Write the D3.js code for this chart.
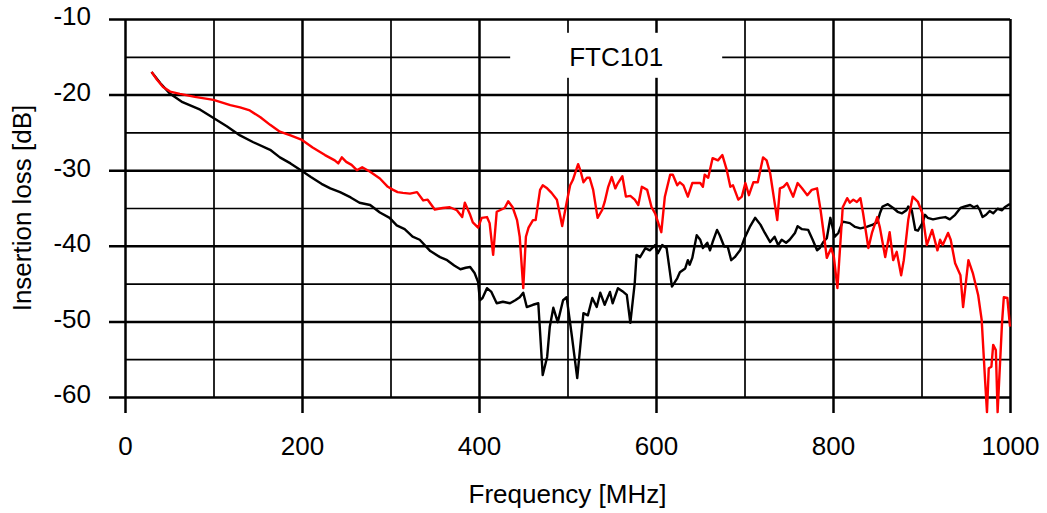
<!DOCTYPE html>
<html>
<head>
<meta charset="utf-8">
<script src="https://cdn.jsdelivr.net/npm/d3@7"></script>
<style>
body { margin: 0; background: #fff; }
text { font-family: "Liberation Sans", Arial, sans-serif; fill: #000; }
</style>
</head>
<body>
<svg id="chart"></svg>
<script>
// x ticks, y ticks
var xMajor = [0, 200, 400, 600, 800, 1000];
var xMinor = [100, 300, 500, 700, 900];
var yMajor = [-10, -20, -30, -40, -50, -60];
var yMinor = [-15, -25, -35, -45, -55];
var title = "FTC101";

// [MHz, dB]
var blackSeries = [[30,-17.0],[40,-18.5],[51,-19.9],[65,-21.0],[85,-22.0],[100,-23.1],[115,-24.2],[130,-25.4],[145,-26.3],[164,-27.3],[175,-28.3],[187,-29.1],[200,-30.1],[210,-30.9],[222,-31.8],[232,-32.4],[243,-32.9],[255,-33.6],[265,-34.3],[277,-34.6],[288,-35.6],[299,-36.3],[307,-37.3],[316,-37.8],[325,-38.8],[333,-39.2],[345,-40.7],[356,-41.5],[364,-41.9],[372,-42.6],[379,-43.1],[385,-42.9],[390,-42.8],[395,-43.6],[399,-44.8],[401,-47.2],[404,-46.9],[409,-45.6],[414,-46.1],[420,-47.6],[427,-47.4],[435,-47.6],[441,-47.2],[446,-46.8],[450,-46.2],[454,-48.1],[461,-47.8],[467,-47.6],[472,-57.1],[477,-54.7],[480,-50.7],[484,-48.2],[489,-50.1],[495,-47.2],[499,-46.8],[505,-52.0],[511,-57.5],[518,-48.9],[523,-49.2],[528,-46.9],[533,-48.1],[537,-46.2],[542,-47.8],[548,-46.1],[551,-47.6],[557,-45.6],[562,-46.0],[567,-46.5],[571,-50.2],[576,-44.9],[578,-41.2],[582,-41.5],[588,-40.3],[593,-40.6],[599,-39.9],[602,-41.0],[607,-39.9],[612,-40.3],[618,-45.4],[624,-44.3],[627,-43.5],[633,-43.0],[636,-41.9],[638,-42.5],[641,-41.6],[646,-38.6],[650,-39.2],[653,-40.3],[658,-39.6],[661,-40.6],[664,-39.5],[669,-37.9],[672,-38.6],[677,-40.1],[681,-40.1],[685,-41.9],[689,-41.5],[695,-40.6],[700,-39.0],[706,-37.5],[712,-36.3],[718,-37.2],[723,-38.3],[729,-39.5],[734,-38.8],[738,-39.9],[742,-39.2],[747,-39.6],[751,-39.2],[757,-38.3],[760,-37.4],[765,-37.8],[772,-37.9],[777,-39.2],[782,-40.6],[785,-40.3],[789,-39.5],[793,-39.0],[797,-36.3],[802,-38.8],[806,-38.3],[811,-36.8],[819,-37.0],[825,-37.5],[831,-37.7],[838,-37.5],[845,-37.2],[850,-36.9],[853,-35.7],[856,-34.8],[862,-34.5],[868,-35.0],[873,-35.5],[878,-35.7],[883,-35.3],[885,-34.8],[889,-35.3],[893,-37.9],[896,-38.0],[901,-37.0],[904,-35.9],[907,-36.3],[913,-36.5],[921,-36.3],[927,-36.2],[932,-36.5],[938,-35.9],[944,-35.0],[949,-34.8],[955,-34.6],[959,-34.9],[963,-34.7],[966,-35.3],[969,-36.2],[973,-35.9],[977,-35.4],[981,-35.7],[986,-35.1],[991,-35.3],[994,-34.9],[998,-34.6],[1000,-34.5]];

var redSeries = [[30,-17.0],[36,-18.0],[43,-19.0],[51,-19.6],[62,-19.9],[79,-20.3],[100,-20.7],[119,-21.4],[130,-21.7],[141,-22.1],[153,-23.0],[164,-24.0],[175,-24.9],[187,-25.4],[200,-26.0],[212,-27.0],[226,-28.0],[237,-28.7],[241,-29.1],[245,-28.3],[250,-28.9],[256,-29.3],[262,-30.0],[268,-29.6],[277,-30.2],[288,-31.1],[297,-32.2],[303,-32.6],[308,-32.9],[314,-33.0],[322,-33.1],[330,-32.9],[337,-34.0],[342,-33.9],[350,-35.2],[359,-35.0],[367,-34.9],[375,-35.3],[381,-36.2],[384,-34.3],[390,-35.9],[393,-36.9],[399,-37.6],[403,-36.3],[409,-36.2],[412,-37.0],[416,-41.2],[420,-35.5],[429,-35.0],[433,-34.1],[438,-34.9],[443,-36.6],[446,-38.8],[450,-45.6],[453,-38.8],[456,-37.6],[461,-36.6],[464,-36.6],[469,-32.6],[472,-32.0],[477,-32.4],[482,-33.0],[488,-33.9],[492,-36.2],[494,-37.4],[499,-34.3],[503,-32.0],[506,-31.3],[512,-29.2],[515,-30.2],[518,-31.6],[522,-31.0],[525,-31.0],[529,-32.6],[534,-36.3],[539,-35.3],[542,-34.2],[546,-32.2],[550,-30.9],[554,-32.4],[557,-31.7],[562,-30.8],[566,-33.5],[571,-33.4],[576,-33.9],[580,-34.6],[584,-32.2],[590,-32.6],[595,-34.9],[599,-35.7],[606,-38.2],[610,-33.5],[616,-30.6],[619,-30.6],[624,-32.0],[627,-31.6],[631,-32.0],[636,-33.5],[641,-31.7],[646,-31.7],[650,-31.7],[653,-32.2],[655,-30.6],[659,-31.0],[664,-28.4],[670,-28.7],[675,-28.0],[680,-30.0],[684,-32.2],[687,-32.0],[693,-33.9],[697,-33.5],[701,-31.7],[705,-33.3],[710,-31.6],[715,-31.6],[721,-28.3],[725,-28.7],[729,-30.4],[737,-36.6],[740,-32.4],[744,-32.2],[748,-31.7],[755,-33.5],[760,-31.7],[765,-32.4],[771,-33.3],[776,-32.6],[782,-32.4],[786,-35.3],[790,-38.8],[793,-41.6],[798,-40.3],[801,-41.5],[805,-45.6],[808,-40.2],[811,-34.9],[816,-33.7],[819,-34.3],[823,-33.9],[827,-34.2],[831,-33.7],[834,-35.7],[840,-40.3],[844,-38.3],[850,-36.2],[853,-37.6],[859,-41.5],[864,-38.2],[868,-41.9],[872,-40.8],[877,-43.9],[880,-41.9],[885,-36.6],[890,-33.5],[896,-34.2],[901,-35.7],[906,-39.9],[912,-37.9],[918,-40.6],[921,-39.2],[924,-39.9],[930,-38.3],[933,-39.2],[938,-42.3],[944,-43.9],[947,-48.1],[953,-41.9],[958,-43.6],[964,-46.5],[968,-49.8],[972,-58.1],[974,-62.0],[976,-56.2],[979,-56.0],[981,-53.1],[984,-53.8],[986,-62.0],[991,-50.2],[993,-46.8],[997,-46.9],[1000,-50.7]];

var W = 1047, H = 513;
var margin = {left: 125, right: 37, top: 19, bottom: 116};
var width = W - margin.left - margin.right;
var height = H - margin.top - margin.bottom;
var fontSize = 26;
var plain = d => String(d);

var svg = d3.select("#chart").attr("width", W).attr("height", H);
var g = svg.append("g").attr("transform", "translate(" + margin.left + "," + margin.top + ")");

var x = d3.scaleLinear().domain([0, 1000]).range([0, width]);
var y = d3.scaleLinear().domain([-60, -10]).range([height, 0]);

function grid(sel, w) {
	sel.select(".domain").remove();
	sel.selectAll("line").attr("stroke", "#000").attr("stroke-width", w);
}

// vertical grid lines
g.append("g")
	.call(d3.axisBottom(x).tickValues(xMinor).tickSize(height).tickFormat(""))
	.call(grid, 1.7);
g.append("g")
	.call(d3.axisBottom(x).tickValues(xMajor).tickSize(height + 16).tickFormat(""))
	.call(grid, 2.5);

// horizontal grid lines
g.append("g")
	.call(d3.axisRight(y).tickValues(yMinor).tickSize(width).tickFormat(""))
	.call(grid, 1.7);
g.append("g")
	.attr("transform", "translate(-16,0)")
	.call(d3.axisRight(y).tickValues(yMajor).tickSize(width + 16).tickFormat(""))
	.call(grid, 2.5);

// tick labels
var yLab = g.append("g")
	.call(d3.axisLeft(y).tickValues(yMajor).tickSize(0).tickPadding(34).tickFormat(plain));
yLab.select(".domain").remove();
yLab.selectAll("text").attr("font-size", fontSize).attr("dy", "0.23em")
	.style("font-family", "Liberation Sans, Arial, sans-serif");

var xLab = g.append("g")
	.attr("transform", "translate(0," + height + ")")
	.call(d3.axisBottom(x).tickValues(xMajor).tickSize(0).tickPadding(40).tickFormat(plain));
xLab.select(".domain").remove();
xLab.selectAll("text").attr("font-size", fontSize)
	.style("font-family", "Liberation Sans, Arial, sans-serif");

// title box
var tx = x(555), ty = y(-15);
g.append("rect")
	.attr("x", tx - 106).attr("y", ty - 24)
	.attr("width", 212).attr("height", 45)
	.attr("fill", "#fff");
g.append("text")
	.attr("x", tx).attr("y", ty + 9)
	.attr("text-anchor", "middle")
	.attr("font-size", fontSize)
	.text(title);

// series
var line = d3.line()
	.x(d => x(d[0]))
	.y(d => y(d[1]));

g.append("path")
	.datum(blackSeries)
	.attr("fill", "none")
	.attr("stroke", "#000")
	.attr("stroke-width", 2.4)
	.attr("stroke-linejoin", "round")
	.attr("d", line);

g.append("path")
	.datum(redSeries)
	.attr("fill", "none")
	.attr("stroke", "#ff0000")
	.attr("stroke-width", 2.4)
	.attr("stroke-linejoin", "round")
	.attr("d", line);

// axis titles
svg.append("text")
	.attr("x", margin.left + width / 2)
	.attr("y", 503)
	.attr("text-anchor", "middle")
	.attr("font-size", fontSize)
	.text("Frequency [MHz]");

svg.append("text")
	.attr("transform", "translate(31," + (margin.top + height / 2) + ") rotate(-90)")
	.attr("text-anchor", "middle")
	.attr("font-size", fontSize)
	.text("Insertion loss [dB]");
</script>
</body>
</html>
